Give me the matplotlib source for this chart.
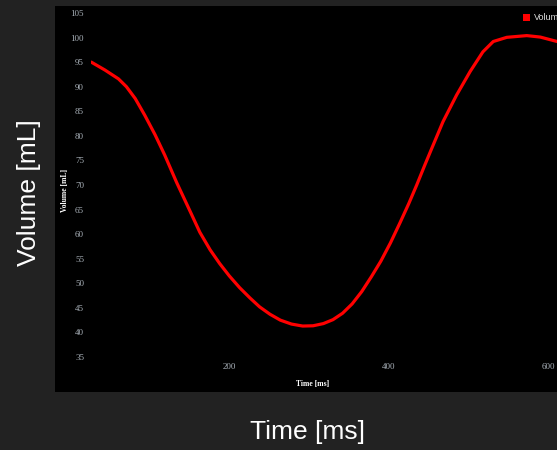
import matplotlib
matplotlib.use("Agg")
import matplotlib.pyplot as plt
from matplotlib.patches import Rectangle

# volume curve
time_ms = [27, 44, 61, 71, 82, 94, 107, 119, 134, 151, 163, 176, 188, 200, 213,
           226, 238, 251, 264, 278, 292, 305, 318, 330, 342, 354, 366, 378, 390,
           402, 414, 425, 435, 445, 454, 468, 485, 502, 518, 531, 548, 573, 590,
           611]
volume_ml = [95.0, 93.4, 91.6, 90.0, 87.6, 84.2, 80.2, 76.1, 70.5, 64.6, 60.4,
             56.8, 54.0, 51.5, 49.1, 47.0, 45.2, 43.7, 42.5, 41.7, 41.3, 41.35,
             41.8, 42.6, 43.9, 45.8, 48.3, 51.3, 54.5, 58.2, 62.3, 66.2, 70.0,
             74.0, 77.5, 82.9, 88.3, 93.1, 97.1, 99.2, 100.05, 100.4, 100.1, 99.2]
y_ticks = [35, 40, 45, 50, 55, 60, 65, 70, 75, 80, 85, 90, 95, 100, 105]
x_ticks = [200, 400, 600]

W, H = 557, 450
fig = plt.figure(figsize=(W / 100, H / 100), dpi=100)
fig.patch.set_facecolor("#222222")

# black panel holding the inner chart
fig.patches.append(Rectangle((55 / W, 1 - 392 / H), (W - 55) / W, (392 - 6) / H,
                             transform=fig.transFigure, facecolor="black",
                             edgecolor="none", zorder=-1))

# inner axes: x px = 69.8 + 0.7975*t, y px = 13 + 4.914*(105 - V)
left, right, top, bottom = 91, 557, 13, 357
ax = fig.add_axes([left / W, 1 - bottom / H, (right - left) / W, (bottom - top) / H])
ax.set_zorder(2)
ax.set_facecolor("none")
ax.set_xlim((left - 69.8) / 0.7975, (right - 69.8) / 0.7975)
ax.set_ylim(35, 105)

ax.plot(time_ms, volume_ml, color="#ff0000", linewidth=2.3,
        solid_capstyle="round", solid_joinstyle="round")

ax.set_xticks(x_ticks)
ax.set_yticks(y_ticks)
for s in ax.spines.values():
    s.set_visible(False)
ax.tick_params(length=0, colors="#a8b0b8", labelsize=6.5, pad=5)
for lab in ax.get_xticklabels() + ax.get_yticklabels():
    lab.set_fontfamily("Liberation Serif")
ax.xaxis.set_tick_params(pad=4)

# small labels of the inner chart
fig.text(65 / W, 1 - 190 / H, "Volume [mL]", rotation=90, ha="center", va="center",
         color="white", fontsize=5.5, fontweight="bold", family="Liberation Serif")
fig.text(313 / W, 1 - 384 / H, "Time [ms]", ha="center", va="center",
         color="white", fontsize=5.5, fontweight="bold", family="Liberation Serif")

# legend, cut off by the right edge as in the source
fig.patches.append(Rectangle((523 / W, 1 - 21 / H), 7 / W, 7 / H,
                             transform=fig.transFigure, facecolor="#ff0000",
                             edgecolor="none", zorder=3))
fig.text(534 / W, 1 - 17.5 / H, "Volume", ha="left", va="center",
         color="#dddddd", fontsize=6.5, family="Liberation Sans")

# outer labels
fig.text(29 / W, 1 - 193 / H, "Volume [mL]", rotation=90, ha="center", va="center",
         color="white", fontsize=19, family="Liberation Sans")
fig.text(307 / W, 1 - 432 / H, "Time [ms]", ha="center", va="center",
         color="white", fontsize=19, family="Liberation Sans")

fig.savefig("out.png", dpi=100, facecolor=fig.get_facecolor())
